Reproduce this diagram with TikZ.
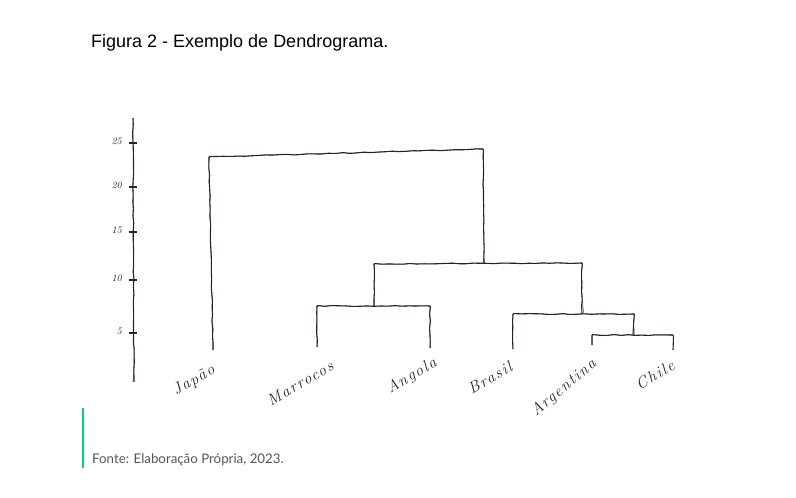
\documentclass[tikz,border=0pt]{standalone}
\usepackage{fontspec}
\usepackage{xcolor}
\usepackage{tikz}
\usetikzlibrary{decorations.pathmorphing}
\newfontfamily\titlefont{Liberation Sans}
\newfontfamily\sourcefont{Lato}
\newfontfamily\handfont[LetterSpace=10]{Latin Modern Roman}
\definecolor{ink}{HTML}{2E2020}
\definecolor{barGreen}{HTML}{00D084}
\definecolor{sourceGray}{HTML}{555555}
\tikzset{
  sketch/.style={draw=ink, line width=1.1pt, rounded corners=0.8pt,
    decorate, decoration={random steps, segment length=7pt, amplitude=0.45pt},
    preaction={draw=ink!80, line width=0.5pt, decorate,
      decoration={random steps, segment length=11pt, amplitude=0.9pt}}},
  leaf/.style={font=\handfont\itshape\fontsize{16}{16}\selectfont, text=ink, rotate=30, inner sep=0pt},
  tick/.style={font=\itshape\fontsize{10}{10}\selectfont, text=ink, inner sep=0pt}
}
\begin{document}
\begin{tikzpicture}[x=1pt, y=-1pt]
    \useasboundingbox (0,0) rectangle (796,498);
    % Title
    \node[anchor=base west, inner sep=0pt, font=\titlefont\fontsize{18}{18}\selectfont] (title) at (91,47) {Figura 2 - Exemplo de Dendrograma.};

    % Axis
    \coordinate (axtop) at (133,118);
    \coordinate (axbot) at (134,382);
    \draw[sketch] (axtop) -- (axbot);
    \foreach \v/\y in {25/143, 20/187, 15/232, 10/280, 5/333} {
      \coordinate (t\v) at (133,\y);
      \draw[sketch] ([xshift=-4]t\v) -- ([xshift=4]t\v);
      \node[tick, anchor=east] (n\v) at (122,\y-2) {\v};
    }

    % Leaves
    \coordinate (japao) at (213,350);
    \coordinate (marrocos) at (317,347);
    \coordinate (angola) at (430,348);
    \coordinate (brasil) at (513,349);
    \coordinate (argentina) at (592,345);
    \coordinate (chile) at (673,350);

    % Merges
    \coordinate (ac) at (592,335);
    \coordinate (ca) at (673,335);
    \coordinate (bl) at (513,314);
    \coordinate (br) at (634,314);
    \coordinate (ml) at (317,306);
    \coordinate (mr) at (430,306);
    \coordinate (ul) at (374,264);
    \coordinate (ur) at (582,263);
    \coordinate (tl) at (209,157);
    \coordinate (tr) at (483,149);

    % Links
    \draw[sketch] (argentina) -- (ac) -- (ca) -- (chile);
    \draw[sketch] (brasil) -- (bl) -- (br) -- (br |- ac);
    \draw[sketch] (marrocos) -- (ml) -- (mr) -- (angola);
    \draw[sketch] (ul |- ml) -- (ul) -- (ur) -- (ur |- br);
    \draw[sketch] (japao) -- (tl) -- (tr) -- ([xshift=1]tr |- ul);

    % Labels
    \node[leaf] (lj) at (194,381) {Japão};
    \node[leaf] (lm) at (300,383) {Marrocos};
    \node[leaf] (la) at (412,376) {Angola};
    \node[leaf] (lb) at (490,378) {Brasil};
    \node[leaf, rotate=10] (lar) at (564,388) {Argentina};
    \node[leaf] (lc) at (655,375) {Chile};

    % Source
    \draw[barGreen, line width=2pt] (83,408) -- (83,468);
    \node[anchor=base west, inner sep=0pt, text=sourceGray, font=\sourcefont\fontsize{13.3}{13.3}\selectfont] (fonte) at (92,463) {Fonte: Elaboração Própria, 2023.};
\end{tikzpicture}
\end{document}
